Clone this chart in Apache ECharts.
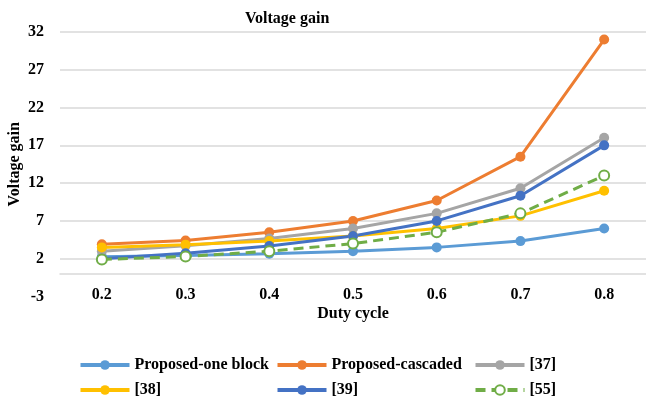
<!DOCTYPE html>
<html>
<head>
<meta charset="utf-8">
<script src="https://cdn.jsdelivr.net/npm/echarts@6/dist/echarts.min.js"></script>
<style>
  html, body { margin: 0; padding: 0; background: #fff; }
  #chart { width: 646px; height: 400px; }
</style>
</head>
<body>
<div id="chart"></div>
<script>
// Duty cycle categories
const dutyCycle = ['0.2', '0.3', '0.4', '0.5', '0.6', '0.7', '0.8'];

// Voltage gain per converter topology
const proposedOneBlock = [2.25, 2.43, 2.67, 3.0, 3.5, 4.33, 6.0];
const proposedCascaded = [3.9, 4.4, 5.5, 7.0, 9.7, 15.5, 31.0];
const ref37 = [3.0, 3.71, 4.67, 6.0, 8.0, 11.33, 18.0];
const ref38 = [3.5, 3.86, 4.33, 5.0, 6.0, 7.67, 11.0];
const ref39 = [2.0, 2.71, 3.67, 5.0, 7.0, 10.33, 17.0];
const ref55 = [1.9, 2.3, 3.0, 4.0, 5.5, 8.0, 13.0];

// Series names
const names = ['Proposed-one block', 'Proposed-cascaded', '[37]', '[38]', '[39]', '[55]'];

const FONT = '"Liberation Serif", "Times New Roman", serif';
const GRID_COLOR = '#d9d9d9';
const boldText = { fontFamily: FONT, fontWeight: 'bold', fontSize: 16, color: '#000' };

function solidSeries(name, data, color) {
  return {
    name: name,
    type: 'line',
    data: data,
    symbol: 'circle',
    symbolSize: 10,
    lineStyle: { color: color, width: 3 },
    itemStyle: { color: color },
    emphasis: { disabled: true }
  };
}

const series = [
  solidSeries(names[0], proposedOneBlock, '#5B9BD5'),
  solidSeries(names[1], proposedCascaded, '#ED7D31'),
  solidSeries(names[2], ref37, '#A5A5A5'),
  solidSeries(names[3], ref38, '#FFC000'),
  solidSeries(names[4], ref39, '#4472C4'),
  {
    name: names[5],
    type: 'line',
    data: ref55,
    symbol: 'emptyCircle',
    symbolSize: 10,
    lineStyle: { color: '#70AD47', width: 3, type: [10, 6] },
    itemStyle: { color: '#70AD47', borderWidth: 1.5 },
    emphasis: { disabled: true }
  }
];

// One legend block per entry, laid out as a 3 x 2 table
function legendItem(name, left, top) {
  return {
    left: left,
    top: top,
    padding: 0,
    data: [name],
    itemWidth: 49,
    itemHeight: 12,
    selectedMode: false,
    lineStyle: { width: 4 },
    textStyle: boldText
  };
}

const colX = [78.5, 275.5, 473.5];
const rowY = [357, 382];

const chart = echarts.init(document.getElementById('chart'), null, { renderer: 'canvas' });
chart.setOption({
  animation: false,
  backgroundColor: '#ffffff',
  title: {
    text: 'Voltage gain',
    left: 240,
    top: 6,
    textStyle: boldText
  },
  legend: [
    legendItem(names[0], colX[0], rowY[0]),
    legendItem(names[1], colX[1], rowY[0]),
    legendItem(names[2], colX[2], rowY[0]),
    legendItem(names[3], colX[0], rowY[1]),
    legendItem(names[4], colX[1], rowY[1]),
    legendItem(names[5], colX[2], rowY[1])
  ],
  grid: { left: 60, top: 32, width: 586, height: 264.5, outerBoundsMode: 'none', containLabel: false },
  xAxis: {
    type: 'category',
    data: dutyCycle,
    boundaryGap: true,
    name: 'Duty cycle',
    nameLocation: 'middle',
    nameGap: 9,
    nameMoveOverlap: false,
    nameTextStyle: boldText,
    axisLine: { show: true, onZero: true, lineStyle: { color: GRID_COLOR, width: 1.5 } },
    axisTick: { show: false },
    axisLabel: Object.assign({ margin: -10 }, boldText),
    splitLine: { show: false }
  },
  yAxis: {
    type: 'value',
    min: -3,
    max: 32,
    interval: 5,
    name: 'Voltage gain',
    nameLocation: 'middle',
    nameGap: 37,
    nameMoveOverlap: false,
    nameTextStyle: boldText,
    axisLine: { show: false },
    axisTick: { show: false },
    axisLabel: Object.assign({ margin: 16 }, boldText),
    splitLine: {
      show: true,
      lineStyle: {
        color: ['rgba(0,0,0,0)', GRID_COLOR, GRID_COLOR, GRID_COLOR, GRID_COLOR, GRID_COLOR, GRID_COLOR, GRID_COLOR],
        width: 1.5
      }
    }
  },
  series: series
});
</script>
</body>
</html>
